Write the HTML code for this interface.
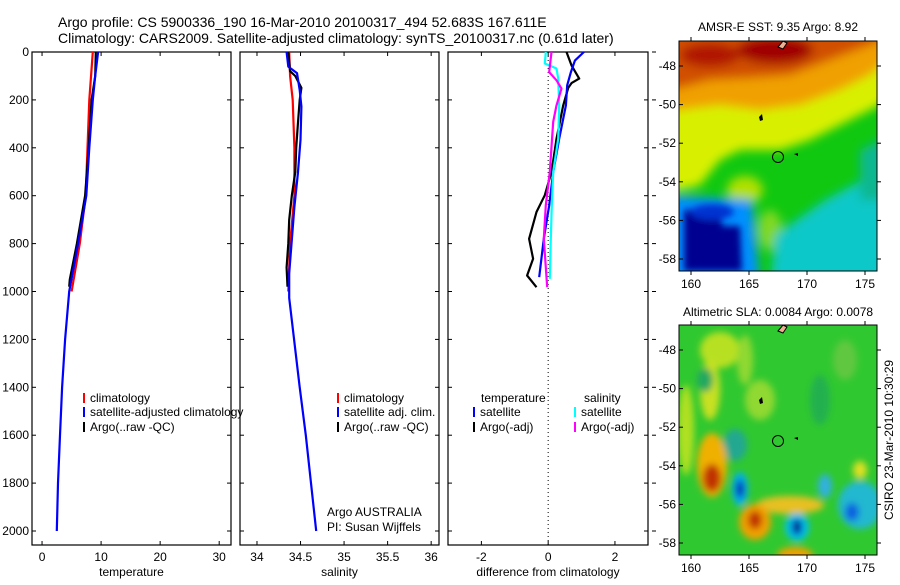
<!DOCTYPE html>
<html><head><meta charset="utf-8">
<style>
html,body{margin:0;padding:0;background:#fff;}
body{width:900px;height:580px;overflow:hidden;font-family:"Liberation Sans",sans-serif;}
svg text{font-family:"Liberation Sans",sans-serif;fill:#000;}
</style></head>
<body>
<svg id="fig" width="900" height="580" viewBox="0 0 900 580" xmlns="http://www.w3.org/2000/svg">
<defs>
<filter id="bl1" x="-20%" y="-20%" width="140%" height="140%"><feGaussianBlur stdDeviation="5"/></filter>
<filter id="bl2" x="-30%" y="-30%" width="160%" height="160%"><feGaussianBlur stdDeviation="3.5"/></filter>
<clipPath id="cm1"><rect x="679" y="41" width="198" height="230"/></clipPath>
<clipPath id="cm2"><rect x="679" y="325" width="198" height="230"/></clipPath>
</defs>
<text x="58" y="27" font-size="14">Argo profile: CS 5900336_190 16-Mar-2010 20100317_494 52.683S 167.611E</text>
<text x="58" y="43" font-size="14">Climatology: CARS2009. Satellite-adjusted climatology: synTS_20100317.nc (0.61d later)</text>

<!-- Map 1 -->
<g clip-path="url(#cm1)">
<rect x="679" y="41" width="198" height="230" fill="#10c810"/>
<g filter="url(#bl1)">
<polygon points="660,30 900,30 900,95 870,110 840,125 810,140 780,150 740,150 720,160 700,185 680,190 660,190" fill="#d8f000"/>
<polygon points="660,30 900,30 900,50 870,75 840,90 800,105 760,110 720,105 680,110 660,112" fill="#f0a000"/>
<polygon points="660,30 900,30 870,45 830,60 790,75 750,78 710,80 680,88 660,90" fill="#d05000"/>
<ellipse cx="775" cy="50" rx="38" ry="14" fill="#a00000"/>
<ellipse cx="710" cy="55" rx="30" ry="12" fill="#b01800"/>
<ellipse cx="745" cy="190" rx="18" ry="14" fill="#b0e000"/>
<ellipse cx="770" cy="230" rx="12" ry="20" fill="#80d820"/>
<polygon points="825,200 900,160 900,290 770,290 775,235" fill="#10c8c8"/>
<polygon points="860,150 900,130 900,200 860,200" fill="#10b890"/>
<polygon points="660,195 752,200 760,285 660,290" fill="#0090ff"/>
</g>
<g filter="url(#bl2)">
<polygon points="684,210 720,206 722,226 740,226 742,271 684,271" fill="#000090"/>
<ellipse cx="712" cy="212" rx="22" ry="8" fill="#0030d0"/>
</g>
<path d="M778,47 l5,-6 l4,2 l-4,6 z" fill="#f0b090" stroke="#000" stroke-width="1"/>
<path d="M759,117 l3,-3 l1,6 l-3,1 z" fill="#000"/>
<path d="M794,154 l4,-1 l0,3 z" fill="#000"/>
</g>
<circle cx="778" cy="157" r="5.5" fill="none" stroke="#000" stroke-width="1"/>
<rect x="679" y="41" width="198" height="230" fill="none" stroke="#000" stroke-width="1"/>
<text x="778" y="31" font-size="12" text-anchor="middle">AMSR-E SST: 9.35 Argo: 8.92</text>

<!-- Map 2 -->
<g clip-path="url(#cm2)">
<rect x="679" y="325" width="198" height="230" fill="#30c830"/>
<g filter="url(#bl2)">
<ellipse cx="720" cy="350" rx="20" ry="18" fill="#b8e020"/>
<ellipse cx="686" cy="430" rx="8" ry="45" fill="#b0e020"/>
<ellipse cx="710" cy="390" rx="10" ry="30" fill="#c8e020"/>
<ellipse cx="745" cy="360" rx="8" ry="25" fill="#90d830"/>
<ellipse cx="705" cy="380" rx="8" ry="12" fill="#20a860"/>
<ellipse cx="735" cy="445" rx="12" ry="16" fill="#20a890"/>
<ellipse cx="712" cy="465" rx="15" ry="32" fill="#f0b000"/>
<ellipse cx="712" cy="478" rx="9" ry="14" fill="#c03000"/>
<ellipse cx="740" cy="489" rx="8" ry="17" fill="#00b0f0"/>
<ellipse cx="740" cy="489" rx="4" ry="9" fill="#0010b0"/>
<ellipse cx="790" cy="505" rx="34" ry="9" fill="#e8c020"/>
<ellipse cx="755" cy="522" rx="16" ry="18" fill="#f0a000"/>
<ellipse cx="755" cy="520" rx="7" ry="9" fill="#c03000"/>
<ellipse cx="797" cy="527" rx="12" ry="14" fill="#00c0f0"/>
<ellipse cx="797" cy="527" rx="5" ry="8" fill="#000090"/>
<ellipse cx="795" cy="555" rx="18" ry="8" fill="#f0a000"/>
<ellipse cx="825" cy="486" rx="7" ry="12" fill="#30b0e0"/>
<ellipse cx="860" cy="505" rx="22" ry="24" fill="#20b8d0"/>
<ellipse cx="852" cy="512" rx="7" ry="9" fill="#1060e0"/>
<ellipse cx="860" cy="470" rx="7" ry="9" fill="#e0e020"/>
<ellipse cx="760" cy="400" rx="15" ry="20" fill="#90d830"/>
<ellipse cx="820" cy="400" rx="10" ry="25" fill="#20b050"/>
<ellipse cx="845" cy="360" rx="12" ry="20" fill="#60c840"/>
</g>
<path d="M778,331 l5,-6 l4,2 l-4,6 z" fill="#f0b090" stroke="#000" stroke-width="1"/>
<path d="M759,400 l3,-3 l1,6 l-3,1 z" fill="#000"/>
<path d="M794,438 l4,-1 l0,3 z" fill="#000"/>
</g>
<circle cx="778" cy="441" r="5.5" fill="none" stroke="#000" stroke-width="1"/>
<rect x="679" y="325" width="198" height="230" fill="none" stroke="#000" stroke-width="1"/>
<text x="778" y="316" font-size="12" text-anchor="middle">Altimetric SLA: 0.0084 Argo: 0.0078</text>
<text transform="translate(893,440) rotate(-90)" font-size="12" text-anchor="middle">CSIRO 23-Mar-2010 10:30:29</text>
<g id="dyn"></g>
</svg>
<script>
// ---- Temperature panel data ----
const tempBlueDepth = [0, 100, 200, 400, 600, 800, 1000, 1200, 1400, 1600, 1800, 2000];
const tempBlueVal = [9.5, 9.0, 8.6, 8.0, 7.5, 6.1, 4.6, 3.9, 3.4, 3.05, 2.7, 2.5];
const tempRedDepth = [0, 200, 400, 600, 800, 1000];
const tempRedVal = [8.6, 8.0, 7.7, 7.4, 6.4, 5.0];
const tempBlackDepth = [0, 100, 200, 400, 600, 800, 950, 980];
const tempBlackVal = [9.1, 9.0, 8.4, 7.9, 7.3, 5.9, 4.7, 4.6];
// ---- Salinity panel data ----
const salBlueDepth = [0, 61, 88, 159, 228, 367, 506, 646, 785, 924, 1027, 1400, 1600, 1800, 2000];
const salBlueVal = [34.34, 34.36, 34.46, 34.49, 34.51, 34.50, 34.47, 34.43, 34.40, 34.37, 34.37, 34.49, 34.56, 34.62, 34.68];
const salRedDepth = [0, 100, 200, 400, 600, 800, 1000];
const salRedVal = [34.37, 34.38, 34.41, 34.43, 34.43, 34.38, 34.36];
const salBlackDepth = [0, 80, 100, 150, 200, 300, 400, 500, 600, 700, 800, 900, 980];
const salBlackVal = [34.36, 34.38, 34.44, 34.51, 34.49, 34.47, 34.45, 34.44, 34.40, 34.37, 34.36, 34.34, 34.35];
// ---- Difference panel data ----
const dTempSatDepth = [0, 36, 84, 139, 223, 362, 501, 640, 780, 919, 940];
const dTempSatVal = [1.07, 0.8, 0.68, 0.57, 0.53, 0.33, 0.15, 0.03, -0.13, -0.25, -0.27];
const dTempArgoDepth = [0, 56, 111, 130, 150, 223, 362, 501, 598, 668, 780, 863, 933, 982];
const dTempArgoVal = [0.55, 0.7, 0.93, 0.7, 0.6, 0.45, 0.25, 0.1, -0.1, -0.35, -0.57, -0.45, -0.63, -0.35];
const dSalSatDepth = [0, 48, 69, 111, 223, 362, 501, 640, 780, 947];
const dSalSatVal = [-0.07, -0.1, 0.25, 0.3, 0.33, 0.3, 0.15, 0.11, 0.08, 0.05];
const dSalArgoDepth = [0, 84, 118, 153, 223, 292, 501, 640, 780, 982];
const dSalArgoVal = [0.1, 0.03, 0.25, 0.4, 0.25, 0.15, 0.05, -0.07, -0.13, -0.03];
// ---- Tick labels ----
const depthTicks = [0, 200, 400, 600, 800, 1000, 1200, 1400, 1600, 1800, 2000];
const tempTicks = [0, 10, 20, 30];
const salTicks = [34, 34.5, 35, 35.5, 36];
const diffTicks = [-2, 0, 2];
const latTicks = [-48, -50, -52, -54, -56, -58];
const lonTicks = [160, 165, 170, 175];

const NS = 'http://www.w3.org/2000/svg';
const dyn = document.getElementById('dyn');
function el(tag, attrs, parent) {
  const e = document.createElementNS(NS, tag);
  for (const k in attrs) e.setAttribute(k, attrs[k]);
  (parent || dyn).appendChild(e);
  return e;
}
const yTop = 52, yBot = 545;
function yD(d) { return yTop + d * 0.2395; }
const panels = [
  {name: 'temperature', x0: 32, x1: 231, vmin: -1.7, vmax: 32.0, ticks: tempTicks, label: 'temperature'},
  {name: 'salinity', x0: 240, x1: 439, vmin: 33.805, vmax: 36.09, ticks: salTicks, label: 'salinity'},
  {name: 'difference', x0: 448, x1: 648, vmin: -3.0, vmax: 2.99, ticks: diffTicks, label: 'difference from climatology'}
];
function xs(p, v) { return p.x0 + (v - p.vmin) / (p.vmax - p.vmin) * (p.x1 - p.x0); }

function line(p, depths, vals, color, name) {
  let d = '';
  for (let i = 0; i < depths.length; i++) {
    const x = xs(p, vals[i]).toFixed(1), y = yD(depths[i]).toFixed(1);
    d += (i === 0 ? 'M' : 'L') + x + ',' + y;
  }
  const e = el('path', {d: d, fill: 'none', stroke: color, 'stroke-width': 2.2, 'stroke-linejoin': 'round'});
  
  
}

panels.forEach((p, pi) => {
  const g = el('g', {});
  
  
  const r = el('rect', {x: p.x0, y: yTop, width: p.x1 - p.x0, height: yBot - yTop, fill: 'none', stroke: '#000', 'stroke-width': 1.2}, g);
  
  
  p.ticks.forEach(t => {
    const x = xs(p, t);
    el('line', {x1: x, x2: x, y1: yBot, y2: yBot - 4, stroke: '#000'}, g);
    el('line', {x1: x, x2: x, y1: yTop, y2: yTop + 4, stroke: '#000'}, g);
    const tx = el('text', {x: x, y: yBot + 16, 'font-size': 12, 'text-anchor': 'middle'}, g);
    tx.textContent = String(t);
    
    
  });
  depthTicks.forEach(t => {
    const y = yD(t);
    el('line', {x1: p.x0, x2: p.x0 + 4, y1: y, y2: y, stroke: '#000'}, g);
    el('line', {x1: p.x1, x2: p.x1 - 4, y1: y, y2: y, stroke: '#000'}, g);
    if (pi === 0) {
      const tx = el('text', {x: p.x0 - 3, y: y + 4, 'font-size': 12, 'text-anchor': 'end'}, g);
      tx.textContent = String(t);
      
      
    }
    if (pi === 2) {
      el('line', {x1: p.x1 + 4, x2: p.x1 + 8, y1: y, y2: y, stroke: '#000'}, g);
    }
  });
  const xl = el('text', {x: (p.x0 + p.x1) / 2, y: 576, 'font-size': 12, 'text-anchor': 'middle'}, g);
  xl.textContent = p.label;
  
  
});

const P1 = panels[0], P2 = panels[1], P3 = panels[2];
const zl = el('line', {x1: xs(P3, 0), x2: xs(P3, 0), y1: yTop, y2: yBot, stroke: '#000', 'stroke-dasharray': '1,3'});



line(P1, tempRedDepth, tempRedVal, '#ff0000', 'temp-climatology-line');
line(P1, tempBlackDepth, tempBlackVal, '#000000', 'temp-argo-line');
line(P1, tempBlueDepth, tempBlueVal, '#0000ff', 'temp-satellite-line');
line(P2, salRedDepth, salRedVal, '#ff0000', 'sal-climatology-line');
line(P2, salBlackDepth, salBlackVal, '#000000', 'sal-argo-line');
line(P2, salBlueDepth, salBlueVal, '#0000ff', 'sal-satellite-line');
line(P3, dTempArgoDepth, dTempArgoVal, '#000000', 'diff-temp-argo-line');
line(P3, dTempSatDepth, dTempSatVal, '#0000ff', 'diff-temp-satellite-line');
line(P3, dSalSatDepth, dSalSatVal, '#00ffff', 'diff-sal-satellite-line');
line(P3, dSalArgoDepth, dSalArgoVal, '#ff00ff', 'diff-sal-argo-line');

function legendEntry(x, y, color, text, name) {
  if (color) el('line', {x1: x, x2: x, y1: y - 9, y2: y + 1, stroke: color, 'stroke-width': 2});
  const t = el('text', {x: x + 6, y: y, 'font-size': 12});
  t.textContent = text;
  
  
}
legendEntry(84, 402, '#ff0000', 'climatology', 'legend-entry-climatology');
legendEntry(84, 416, '#0000ff', 'satellite-adjusted climatology', 'legend-entry-satellite');
legendEntry(84, 431, '#000000', 'Argo(..raw -QC)', 'legend-entry-argo');
legendEntry(338, 402, '#ff0000', 'climatology', 'legend-entry-climatology-sal');
legendEntry(338, 416, '#0000ff', 'satellite adj. clim.', 'legend-entry-satellite-sal');
legendEntry(338, 431, '#000000', 'Argo(..raw -QC)', 'legend-entry-argo-sal');
legendEntry(475, 402, null, 'temperature', 'legend-heading-temperature');
legendEntry(474, 416, '#0000ff', 'satellite', 'legend-entry-temp-satellite');
legendEntry(474, 431, '#000000', 'Argo(-adj)', 'legend-entry-temp-argo');
legendEntry(578, 402, null, 'salinity', 'legend-heading-salinity');
legendEntry(575, 416, '#00ffff', 'satellite', 'legend-entry-sal-satellite');
legendEntry(575, 431, '#ff00ff', 'Argo(-adj)', 'legend-entry-sal-argo');
const a1 = el('text', {x: 327, y: 516, 'font-size': 12});
a1.textContent = 'Argo AUSTRALIA';


const a2 = el('text', {x: 327, y: 531, 'font-size': 12});
a2.textContent = 'PI: Susan Wijffels';



function mapAxes(top, bottom, name) {
  const latY = v => top + 25 + (-48 - v) / 10 * 193;
  const lonX = v => 691 + (v - 160) / 15 * 174;
  latTicks.forEach(v => {
    const y = latY(v);
    el('line', {x1: 679, x2: 683, y1: y, y2: y, stroke: '#000'});
    el('line', {x1: 877, x2: 881, y1: y, y2: y, stroke: '#000'});
    const t = el('text', {x: 676, y: y + 4, 'font-size': 12, 'text-anchor': 'end'});
    t.textContent = String(v);
    
    
  });
  lonTicks.forEach(v => {
    const x = lonX(v);
    el('line', {x1: x, x2: x, y1: top, y2: top - 4, stroke: '#000'});
    el('line', {x1: x, x2: x, y1: bottom, y2: bottom + 4, stroke: '#000'});
    const t = el('text', {x: x, y: bottom + 17, 'font-size': 12, 'text-anchor': 'middle'});
    t.textContent = String(v);
    
    
  });
}
mapAxes(41, 271, 'sst-map');
mapAxes(325, 555, 'sla-map');
</script>
</body></html>
